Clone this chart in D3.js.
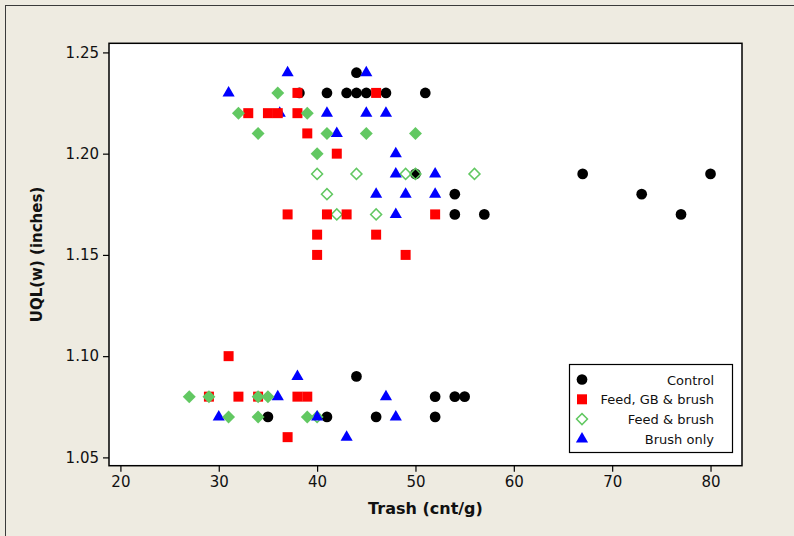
<!DOCTYPE html>
<html>
<head>
<meta charset="utf-8">
<script src="https://cdn.jsdelivr.net/npm/d3@7"></script>
<style>
  html, body { margin: 0; padding: 0; background: #EEEBE1; }
  svg { display: block; }
</style>
</head>
<body>
<svg id="chart" width="794" height="536"></svg>
<script>
// Upper quartile length vs trash count, by cleaning treatment.
// Each point: [trash (cnt/g), UQL(w) (inches)]
const control = [
  [44, 1.24],
  [38.2, 1.23], [41, 1.23], [43, 1.23], [44, 1.23], [45, 1.23], [47, 1.23], [51, 1.23],
  [50, 1.19], [67, 1.19], [80, 1.19],
  [54, 1.18], [73, 1.18],
  [54, 1.17], [57, 1.17], [77, 1.17],
  [44, 1.09],
  [52, 1.08], [54, 1.08], [55, 1.08],
  [35, 1.07], [41, 1.07], [46, 1.07], [52, 1.07]
];
const feedGbBrush = [
  [38, 1.23], [46, 1.23],
  [33, 1.22], [35, 1.22], [36, 1.22], [38, 1.22],
  [39, 1.21],
  [42, 1.20],
  [37, 1.17], [41, 1.17], [43, 1.17], [52, 1.17],
  [40, 1.16], [46, 1.16],
  [40, 1.15], [49, 1.15],
  [31, 1.10],
  [29, 1.08], [32, 1.08], [34, 1.08], [38, 1.08], [39, 1.08],
  [37, 1.06]
];
const feedBrush = [
  [40, 1.19], [44, 1.19], [49, 1.19], [50, 1.19], [56, 1.19],
  [41, 1.18],
  [42, 1.17], [46, 1.17],
  [40, 1.07]
];
const feedBrushSolid = [
  [36, 1.23],
  [32, 1.22], [39, 1.22],
  [34, 1.21], [41, 1.21], [45, 1.21], [50, 1.21],
  [40, 1.20],
  [27, 1.08], [29, 1.08], [34, 1.08], [35, 1.08],
  [31, 1.07], [34, 1.07], [39, 1.07]
];
const brushOnly = [
  [37, 1.24], [45, 1.24],
  [31, 1.23],
  [36.2, 1.22], [41, 1.22], [45, 1.22], [47, 1.22],
  [42, 1.21],
  [48, 1.20],
  [48, 1.19], [52, 1.19],
  [46, 1.18], [49, 1.18], [52, 1.18],
  [48, 1.17],
  [38, 1.09],
  [36, 1.08], [47, 1.08],
  [30, 1.07], [40, 1.07], [48, 1.07],
  [43, 1.06]
];

const xTicks = [20, 30, 40, 50, 60, 70, 80];
const yTicks = [1.05, 1.10, 1.15, 1.20, 1.25];
const seriesNames = ["Control", "Feed, GB & brush", "Feed & brush", "Brush only"];

const svg = d3.select("#chart");
const FONT = "'DejaVu Sans', sans-serif";

// outer panel border
svg.append("rect")
  .attr("x", 5.5).attr("y", 5.5).attr("width", 820).attr("height", 560)
  .attr("fill", "#EEEBE1").attr("stroke", "#3a3a3a").attr("stroke-width", 1);

const plot = { left: 109, right: 742, top: 43.3, bottom: 465.7 };

const x = d3.scaleLinear().domain([18.84, 83.2]).range([plot.left, plot.right]);
const y = d3.scaleLinear().domain([1.0459, 1.2545]).range([plot.bottom, plot.top]);

// plot area
svg.append("rect")
  .attr("x", plot.left).attr("y", plot.top)
  .attr("width", plot.right - plot.left).attr("height", plot.bottom - plot.top)
  .attr("fill", "#ffffff");

// axes
const xAxis = svg.append("g")
  .attr("transform", `translate(0,${plot.bottom})`)
  .call(d3.axisBottom(x).tickValues(xTicks).tickFormat(d3.format("d")).tickSize(6).tickPadding(5));
const yAxis = svg.append("g")
  .attr("transform", `translate(${plot.left},0)`)
  .call(d3.axisLeft(y).tickValues(yTicks).tickFormat(d3.format(".2f")).tickSize(6).tickPadding(4));
[xAxis, yAxis].forEach(g => {
  g.select(".domain").remove();
  g.selectAll("line").attr("stroke", "#000").attr("stroke-width", 1.2);
  g.selectAll("text").attr("fill", "#111").style("font-family", FONT).style("font-size", "15px");
});

// frame
svg.append("rect")
  .attr("x", plot.left).attr("y", plot.top)
  .attr("width", plot.right - plot.left).attr("height", plot.bottom - plot.top)
  .attr("fill", "none").attr("stroke", "#000").attr("stroke-width", 1.5);

// axis titles
svg.append("text")
  .attr("x", (plot.left + plot.right) / 2).attr("y", 514)
  .attr("text-anchor", "middle")
  .style("font-family", FONT).style("font-size", "16px").style("font-weight", "bold")
  .attr("fill", "#111")
  .text("Trash (cnt/g)");
svg.append("text")
  .attr("transform", `translate(42,${(plot.top + plot.bottom) / 2}) rotate(-90)`)
  .attr("text-anchor", "middle")
  .style("font-family", FONT).style("font-size", "15px").style("font-weight", "bold")
  .attr("fill", "#111")
  .text("UQL(w) (inches)");

// marker styles
const GREEN = "#62C862";
const styles = {
  circle:   { path: d3.symbol(d3.symbolCircle, 90)(), rotate: 0, fill: "#000", stroke: "none" },
  square:   { path: d3.symbol(d3.symbolSquare, 100)(), rotate: 0, fill: "#FF0000", stroke: "none" },
  diamond:  { path: d3.symbol(d3.symbolSquare, 84)(), rotate: 45, fill: GREEN, stroke: "none" },
  odiamond: { path: d3.symbol(d3.symbolSquare, 60)(), rotate: 45, fill: "none", stroke: GREEN },
  triangle: { path: d3.symbol(d3.symbolTriangle, 64)(), rotate: 0, fill: "#0000FF", stroke: "none" }
};

function drawSeries(data, st) {
  svg.append("g").selectAll("path").data(data).join("path")
    .attr("d", st.path)
    .attr("transform", d => `translate(${x(d[0])},${y(d[1])}) rotate(${st.rotate})`)
    .attr("fill", st.fill)
    .attr("stroke", st.stroke)
    .attr("stroke-width", 1.5);
}

drawSeries(control, styles.circle);
drawSeries(feedBrush, styles.odiamond);
drawSeries(brushOnly, styles.triangle);
drawSeries(feedGbBrush, styles.square);
drawSeries(feedBrushSolid, styles.diamond);

// legend
const legend = svg.append("g");
legend.append("rect")
  .attr("x", 569.5).attr("y", 364.5).attr("width", 163).attr("height", 88)
  .attr("fill", "#fff").attr("stroke", "#000").attr("stroke-width", 1.2);
const legendStyles = [styles.circle, styles.square, styles.odiamond, styles.triangle];
seriesNames.forEach((name, i) => {
  const cy = 379.5 + i * 19.8;
  const st = legendStyles[i];
  legend.append("path")
    .attr("d", st.path)
    .attr("transform", `translate(582,${cy}) rotate(${st.rotate})`)
    .attr("fill", st.fill).attr("stroke", st.stroke).attr("stroke-width", 1.5);
  legend.append("text")
    .attr("x", 714).attr("y", cy + 5)
    .attr("text-anchor", "end")
    .style("font-family", FONT).style("font-size", "13px")
    .attr("fill", "#111")
    .text(name);
});
</script>
</body>
</html>
